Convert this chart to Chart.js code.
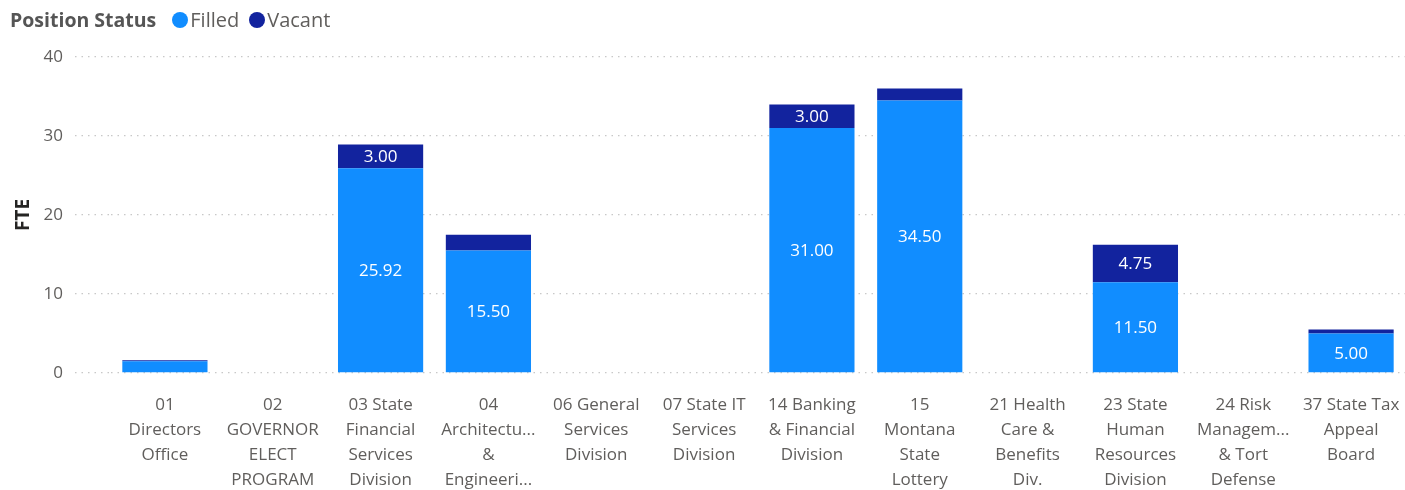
<!DOCTYPE html>
<html>
<head>
<meta charset="utf-8">
<script src="https://cdn.jsdelivr.net/npm/chart.js@4/dist/chart.umd.min.js"></script>
<style>
  html, body { margin: 0; padding: 0; background: #fff; }
  #wrap { position: relative; width: 1405px; height: 490px; }
  #legend {
    position: absolute; left: 10px; top: 6px; z-index: 2;
    font-family: "Open Sans", sans-serif; font-size: 20px; color: #605E5C;
    display: flex; align-items: center; white-space: nowrap;
  }
  #legend .title { font-weight: bold; font-size: 19.5px; color: #555; margin-right: 16px; }
  #legend .item { display: flex; align-items: center; margin-right: 10px; }
  #legend .dot { width: 16px; height: 16px; border-radius: 50%; margin-right: 2px; }
</style>
</head>
<body>
<div id="wrap">
  <div id="legend"></div>
  <canvas id="fteChart" width="1405" height="490"></canvas>
</div>
<script>
// --- Dữ liệu ---
const categories = [
    ['01', 'Directors', 'Office'],
    ['02', 'GOVERNOR', 'ELECT', 'PROGRAM'],
    ['03 State', 'Financial', 'Services', 'Division'],
    ['04', 'Architectu...', '&', 'Engineeri...'],
    ['06 General', 'Services', 'Division'],
    ['07 State IT', 'Services', 'Division'],
    ['14 Banking', '& Financial', 'Division'],
    ['15', 'Montana', 'State', 'Lottery'],
    ['21 Health', 'Care &', 'Benefits', 'Div.'],
    ['23 State', 'Human', 'Resources', 'Division'],
    ['24 Risk', 'Managem...', '& Tort', 'Defense'],
    ['37 State Tax', 'Appeal', 'Board']
];
const filledFTE = [1.5, 0, 25.92, 15.5, 0, 0, 31, 34.5, 0, 11.5, 0, 5];
const vacantFTE = [0.1, 0, 3, 2, 0, 0, 3, 1.5, 0, 4.75, 0, 0.5];
const yTicks = [0, 10, 20, 30, 40];

const filledColor = '#118DFF';
const vacantColor = '#12239E';
const labelGray = '#605E5C';
const gridGray = '#c8c8c8';

// --- Plugin vẽ nhãn giá trị trên cột ---
const barValueLabels = {
    id: 'barValueLabels',
    afterDatasetsDraw(chart) {
        const ctx = chart.ctx;
        ctx.save();
        ctx.font = '17px "Open Sans", sans-serif';
        ctx.fillStyle = '#ffffff';
        ctx.textAlign = 'center';
        ctx.textBaseline = 'middle';
        chart.data.datasets.forEach((ds, i) => {
            const meta = chart.getDatasetMeta(i);
            meta.data.forEach((bar, j) => {
                const v = ds.data[j];
                if (!v) return;
                const h = Math.abs(bar.base - bar.y);
                if (h < 20) return; // không đủ chỗ thì bỏ nhãn
                ctx.fillText(v.toFixed(2), bar.x, (bar.y + bar.base) / 2 + 1);
            });
        });
        ctx.restore();
    }
};

const chart = new Chart(document.getElementById('fteChart'), {
    type: 'bar',
    data: {
        labels: categories,
        datasets: [
            { label: 'Filled', data: filledFTE, backgroundColor: filledColor, borderWidth: 0 },
            { label: 'Vacant', data: vacantFTE, backgroundColor: vacantColor, borderWidth: 0 }
        ]
    },
    options: {
        responsive: false,
        animation: false,
        layout: { padding: { top: 57, left: 0, right: 0, bottom: 0 } },
        datasets: { bar: { barPercentage: 0.79, categoryPercentage: 1 } },
        scales: {
            x: {
                stacked: true,
                grid: { display: false },
                border: { display: false },
                ticks: {
                    color: labelGray,
                    font: { family: 'Open Sans', size: 17, lineHeight: 1.47 },
                    padding: 12,
                    maxRotation: 0,
                    autoSkip: false
                },
                afterFit(scale) {
                    scale.height = 117;
                    scale.paddingLeft = 0;
                    scale.paddingRight = 0;
                }
            },
            y: {
                stacked: true,
                min: 0,
                max: 40,
                afterBuildTicks(scale) { scale.ticks = yTicks.map(v => ({ value: v })); },
                grid: {
                    color: gridGray,
                    lineWidth: 1.3,
                    drawTicks: true,
                    tickLength: 36,
                    tickColor: gridGray,
                    tickBorderDash: [1.5, 5]
                },
                border: { display: false, dash: [1.5, 5] },
                ticks: {
                    color: labelGray,
                    font: { family: 'Open Sans', size: 17 },
                    padding: 12
                },
                title: {
                    display: true,
                    text: 'FTE',
                    color: '#252423',
                    font: { family: 'Open Sans', size: 19, weight: 'bold' },
                    padding: { top: 12, bottom: 0 }
                },
                afterFit(scale) { scale.width = 111; }
            }
        },
        plugins: {
            legend: { display: false },
            tooltip: { enabled: false }
        }
    },
    plugins: [barValueLabels]
});

// --- Chú giải HTML lấy từ datasets của biểu đồ ---
const legendEl = document.getElementById('legend');
legendEl.innerHTML = '<span class="title">Position Status</span>' +
    chart.data.datasets.map(ds =>
        '<span class="item"><span class="dot" style="background:' + ds.backgroundColor + '"></span>' + ds.label + '</span>'
    ).join('');
</script>
</body>
</html>
